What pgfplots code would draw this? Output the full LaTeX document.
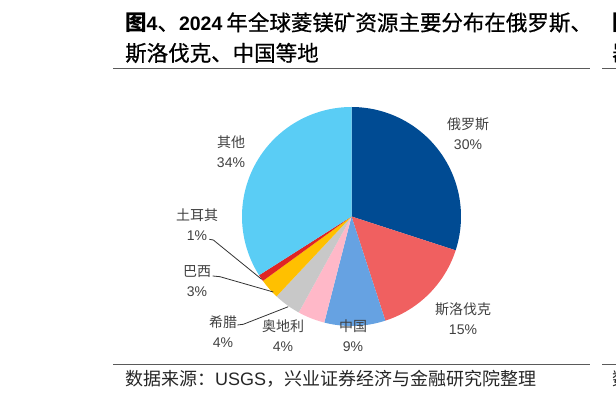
\documentclass[border=0pt]{standalone}
\usepackage{pgfplots}
\pgfplotsset{compat=1.18}
\usepackage{fontspec}
\setmainfont{Liberation Sans}
\newfontfamily\cjk{Noto Sans CJK SC}
\newfontfamily\cjkt[FakeBold=0.6]{Noto Sans CJK SC}
\XeTeXlinebreaklocale "zh"
\XeTeXlinebreakskip=0pt plus 3pt
\definecolor{cRU}{RGB}{0,75,147}
\definecolor{cSK}{RGB}{240,96,96}
\definecolor{cCN}{RGB}{102,162,226}
\definecolor{cAT}{RGB}{255,184,200}
\definecolor{cGR}{RGB}{200,200,200}
\definecolor{cBR}{RGB}{255,192,0}
\definecolor{cTR}{RGB}{224,36,36}
\definecolor{cOT}{RGB}{90,205,245}
\definecolor{txt}{RGB}{64,64,64}
\definecolor{rule}{RGB}{90,90,90}
% slice: start (cumulative %), value (%), colour
\newcommand\slice[3]{%
  \addplot[fill=#3, draw=none, domain={90-3.6*(#1+#2)}:{90-3.6*(#1)}, samples=90]
    ({cos(x)},{sin(x)}) -- (axis cs:0,0) -- cycle;}
\newcommand\tfont{\fontsize{21.5}{24}\selectfont}
\newcommand\dfont{\fontsize{19.5}{24}\selectfont\bfseries}
\begin{document}
\begin{tikzpicture}[x=1pt,y=1pt]
\path[use as bounding box] (0,0) rectangle (616,401);
\begin{axis}[
  at={(0,0)}, anchor=south west,
  x=109.5pt, y=109.5pt, scale only axis,
  xmin=-3.2100, xmax=2.4155, ymin=-1.6849, ymax=1.9772,
  hide axis, clip=false]
% values: Russia 30, Slovakia 15, China 9, Austria 4, Greece 4, Brazil 3, Turkey 1, Others 34
\slice{0}{30}{cRU}
\slice{30}{15}{cSK}
\slice{45}{9}{cCN}
\slice{54}{4}{cAT}
\slice{58}{4}{cGR}
\slice{62}{3}{cBR}
\slice{65}{1}{cTR}
\slice{66}{34}{cOT}
\end{axis}
% title
\node[anchor=west, inner sep=0, font=\tfont] at (125,378.5)
  {\makebox[450pt][s]{{\cjk\bfseries 图}{\dfont 4}{\cjkt 、}{\dfont 2024}\hspace{4pt}{\cjkt 年全球菱镁矿资源主要分布在俄罗斯、}}};
\node[anchor=west, inner sep=0, font=\tfont] at (125,348)
  {{\cjkt 斯洛伐克、中国等地}};
\draw[rule, line width=1pt] (113,332) -- (590,332);
\draw[rule, line width=1pt] (602,332) -- (620,332);
\draw[rule, line width=1pt] (113,36) -- (590,36);
\draw[rule, line width=1pt] (602,36) -- (620,36);
% partial next chart
\node[anchor=west, inner sep=0, font=\tfont] at (612,378.5) {{\cjk\bfseries 图}};
\node[anchor=west, inner sep=0, font=\tfont] at (612,348) {{\cjkt 器}};
\node[anchor=west, inner sep=0, font=\fontsize{18}{20}\selectfont, text=black!85] at (612,22.5) {{\cjk 数}};
% source
\node[anchor=west, inner sep=0, font=\fontsize{18}{20}\selectfont, text=black!85] at (125,22.5)
  {{\cjk 数据来源：}USGS{\cjk ，兴业证券经济与金融研究院整理}};
% labels
\begin{scope}[every node/.style={align=center, inner sep=0, text=txt, font=\fontsize{14}{20}\selectfont}]
\node at (468,267) {{\cjk 俄罗斯}\\30\%};
\node at (231,249) {{\cjk 其他}\\34\%};
\node at (463,82) {{\cjk 斯洛伐克}\\15\%};
\node at (197,176.5) {{\cjk 土耳其}\\1\%};
\node at (197,119.5) {{\cjk 巴西}\\3\%};
\node at (223,69) {{\cjk 希腊}\\4\%};
\node at (283,65) {{\cjk 奥地利}\\4\%};
\node at (353,65) {{\cjk 中国}\\9\%};
\end{scope}
\draw[black!80, line width=0.8pt] (209.3,161.7) -- (213.3,161) -- (261.7,121.7);
\draw[black!80, line width=0.8pt] (212.7,125) -- (220,124.3) -- (273.3,109);
\draw[black!80, line width=0.8pt] (237.3,76) -- (243.3,76.7) -- (288.3,94.3);
\end{tikzpicture}
\end{document}
